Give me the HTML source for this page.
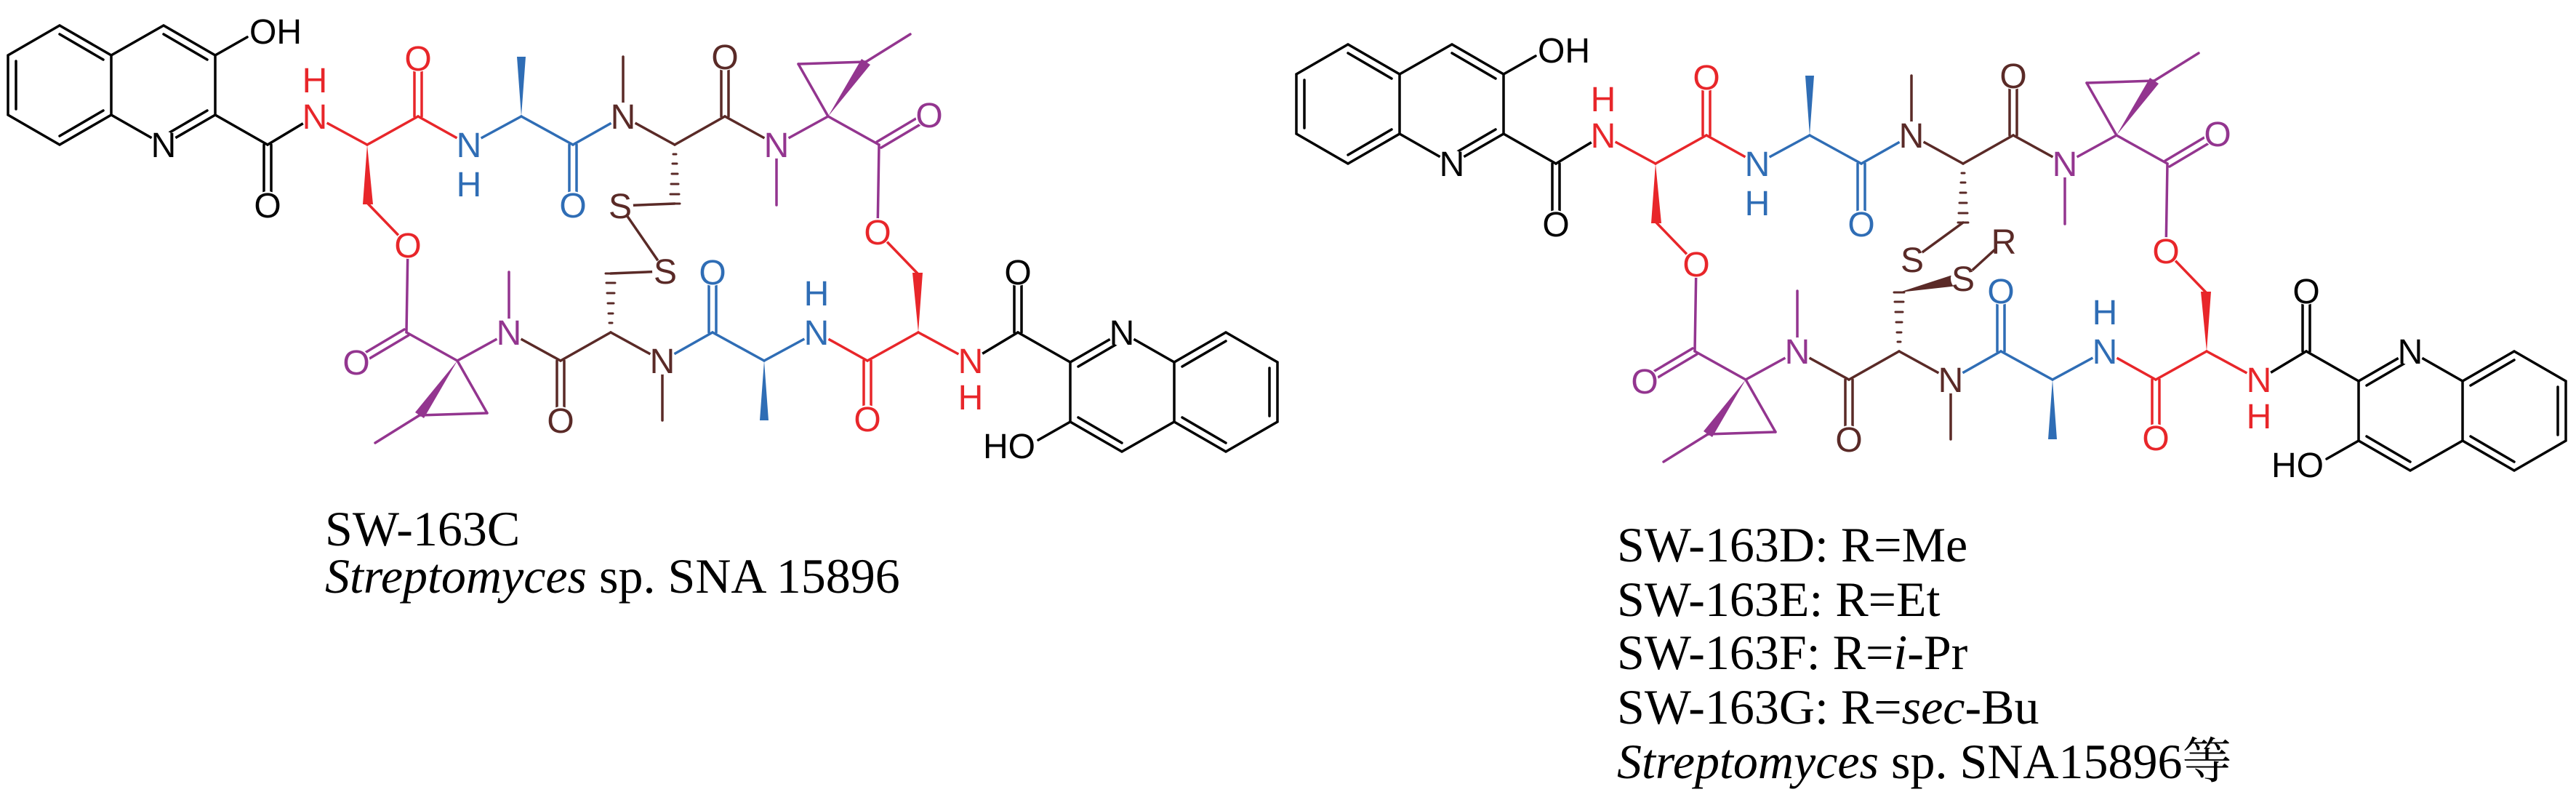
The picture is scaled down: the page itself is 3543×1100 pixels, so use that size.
<!DOCTYPE html>
<html><head><meta charset="utf-8"><style>
html,body{margin:0;padding:0;background:#fff;}
svg{display:block;}
.a{font-family:"Liberation Sans",Arial,sans-serif;font-size:48px;text-anchor:middle;}
.k{fill:#000}.r{fill:#e8262a}.b{fill:#2f6db5}.w{fill:#5a2a27}.p{fill:#93358f}
.lbl{font-family:"Liberation Serif","Noto Serif CJK SC","Noto Sans CJK SC",serif;font-size:68px;fill:#000;}
</style></head><body>
<svg width="3543" height="1100" viewBox="0 0 3543 1100" xmlns="http://www.w3.org/2000/svg">
<rect width="3543" height="1100" fill="#fff"/>
<defs>
<g id="half" stroke-width="3.5" stroke-linecap="round" fill="none">
  <g stroke="#000">
    <polygon points="82,35 153,76 153,158 82,199 11,158 11,76"/>
    <polyline points="153,76 225,35 296,76 296,158 225,199 153,158"/>
    <line x1="82" y1="47" x2="142" y2="82"/>
    <line x1="82" y1="187" x2="142" y2="152"/>
    <line x1="22" y1="84" x2="22" y2="150"/>
    <line x1="225" y1="47" x2="285" y2="82"/>
    <line x1="225" y1="187" x2="285" y2="152"/>
    <line x1="296" y1="76" x2="340" y2="51"/>
    <line x1="296" y1="158" x2="368" y2="199"/>
    <line x1="363" y1="199" x2="363" y2="282"/>
    <line x1="373" y1="199" x2="373" y2="282"/>
    <line x1="368" y1="199" x2="433" y2="160"/>
  </g>
  <g stroke="#e8262a">
    <line x1="433" y1="160" x2="505" y2="199"/>
    <line x1="505" y1="199" x2="575" y2="160"/>
    <line x1="570" y1="160" x2="570" y2="80"/>
    <line x1="580" y1="160" x2="580" y2="80"/>
    <line x1="575" y1="160" x2="645" y2="199"/>
    <line x1="506" y1="280" x2="561" y2="337"/>
  </g>
  <polygon points="505,199 499,281 513,281" fill="#e8262a"/>
  <g stroke="#2f6db5">
    <line x1="645" y1="199" x2="717" y2="160"/>
    <line x1="717" y1="160" x2="788" y2="199"/>
    <line x1="783" y1="199" x2="783" y2="282"/>
    <line x1="793" y1="199" x2="793" y2="282"/>
    <line x1="788" y1="199" x2="857" y2="160"/>
  </g>
  <polygon points="717,160 711,78 723,78" fill="#2f6db5"/>
  <g stroke="#5a2a27">
    <line x1="857" y1="160" x2="857" y2="78"/>
    <line x1="857" y1="160" x2="928" y2="199"/>
    <line x1="928" y1="199" x2="997" y2="160"/>
    <line x1="992" y1="160" x2="992" y2="78"/>
    <line x1="1002" y1="160" x2="1002" y2="78"/>
    <line x1="997" y1="160" x2="1068" y2="199"/>
    <g stroke-width="3">
      <line x1="926" y1="212" x2="930" y2="212"/>
      <line x1="925" y1="225" x2="931" y2="225"/>
      <line x1="924" y1="239" x2="932" y2="239"/>
      <line x1="923" y1="253" x2="933" y2="253"/>
      <line x1="922" y1="267" x2="934" y2="267"/>
      <line x1="921" y1="280" x2="935" y2="280"/>
    </g>
  </g>
  <g stroke="#93358f">
    <line x1="1068" y1="199" x2="1068" y2="282"/>
    <line x1="1068" y1="199" x2="1139" y2="160"/>
    <line x1="1139" y1="160" x2="1098" y2="88"/>
    <line x1="1098" y1="88" x2="1191" y2="85"/>
    <line x1="1191" y1="85" x2="1252" y2="47"/>
    <line x1="1139" y1="160" x2="1209" y2="199"/>
    <line x1="1206" y1="195" x2="1275" y2="154"/>
    <line x1="1212" y1="203" x2="1281" y2="162"/>
    <line x1="1209" y1="199" x2="1207" y2="320"/>
  </g>
  <polygon points="1139,160 1197,89 1185,81" fill="#93358f"/>
</g>
<g id="bg" fill="#fff">
  <rect x="343" y="22" width="80" height="42"/>
  <circle cx="225" cy="199" r="19"/>
  <circle cx="368" cy="282" r="19"/>
  <circle cx="433" cy="160" r="19"/>
  <circle cx="433" cy="110" r="19"/>
  <circle cx="575" cy="80" r="19"/>
  <circle cx="645" cy="199" r="19"/>
  <circle cx="645" cy="253" r="19"/>
  <circle cx="788" cy="282" r="19"/>
  <circle cx="857" cy="160" r="19"/>
  <circle cx="997" cy="78" r="19"/>
  <circle cx="1068" cy="199" r="19"/>
  <circle cx="1278" cy="158" r="19"/>
  <circle cx="561" cy="337" r="19"/>
  <rect x="1346" y="592" width="80" height="42"/>
  <circle cx="1543" cy="457" r="19"/>
  <circle cx="1400" cy="374" r="19"/>
  <circle cx="1335" cy="496" r="19"/>
  <circle cx="1335" cy="546" r="19"/>
  <circle cx="1193" cy="576" r="19"/>
  <circle cx="1123" cy="457" r="19"/>
  <circle cx="1123" cy="403" r="19"/>
  <circle cx="980" cy="374" r="19"/>
  <circle cx="911" cy="496" r="19"/>
  <circle cx="771" cy="578" r="19"/>
  <circle cx="700" cy="457" r="19"/>
  <circle cx="490" cy="498" r="19"/>
  <circle cx="1207" cy="319" r="19"/>
</g>
<g id="labels">
  <text class="a k" x="343" y="60" style="text-anchor:start">OH</text>
  <text class="a k" x="225" y="216">N</text>
  <text class="a k" x="368" y="299">O</text>
  <text class="a r" x="433" y="177">N</text>
  <text class="a r" x="433" y="127">H</text>
  <text class="a r" x="575" y="97">O</text>
  <text class="a b" x="645" y="216">N</text>
  <text class="a b" x="645" y="270">H</text>
  <text class="a b" x="788" y="299">O</text>
  <text class="a w" x="857" y="177">N</text>
  <text class="a w" x="997" y="95">O</text>
  <text class="a p" x="1068" y="216">N</text>
  <text class="a p" x="1278" y="175">O</text>
  <text class="a r" x="561" y="354">O</text>
  <text class="a k" x="1424" y="630" style="text-anchor:end">HO</text>
  <text class="a k" x="1543" y="474">N</text>
  <text class="a k" x="1400" y="391">O</text>
  <text class="a r" x="1335" y="513">N</text>
  <text class="a r" x="1335" y="563">H</text>
  <text class="a r" x="1193" y="593">O</text>
  <text class="a b" x="1123" y="474">N</text>
  <text class="a b" x="1123" y="420">H</text>
  <text class="a b" x="980" y="391">O</text>
  <text class="a w" x="911" y="513">N</text>
  <text class="a w" x="771" y="595">O</text>
  <text class="a p" x="700" y="474">N</text>
  <text class="a p" x="490" y="515">O</text>
  <text class="a r" x="1207" y="336">O</text>
</g>
</defs>

<!-- Left molecule -->
<g>
  <use href="#half"/>
  <use href="#half" transform="rotate(180 884 328)"/>
  <g stroke="#5a2a27" stroke-width="3.5" stroke-linecap="round">
    <line x1="928" y1="280" x2="853" y2="283"/>
    <line x1="840" y1="376" x2="915" y2="373"/>
    <line x1="853" y1="283" x2="915" y2="373"/>
  </g>
  <use href="#bg"/>
  <circle cx="853" cy="283" r="18" fill="#fff"/>
  <circle cx="915" cy="373" r="18" fill="#fff"/>
  <use href="#labels"/>
  <text class="a w" x="853" y="300">S</text>
  <text class="a w" x="915" y="390">S</text>
</g>

<!-- Right molecule -->
<g transform="translate(1772,26)">
  <use href="#half"/>
  <use href="#half" transform="rotate(180 884 328)"/>
  <g stroke="#5a2a27" stroke-width="3.5" stroke-linecap="round">
    <line x1="928" y1="280" x2="858" y2="331"/>
    <line x1="928" y1="357" x2="984" y2="306"/>
  </g>
  <polygon points="840,376 930,366 926,348" fill="#5a2a27"/>
  <use href="#bg"/>
  <circle cx="858" cy="331" r="17" fill="#fff"/>
  <circle cx="928" cy="357" r="17" fill="#fff"/>
  <circle cx="984" cy="306" r="17" fill="#fff"/>
  <use href="#labels"/>
  <text class="a w" x="858" y="348">S</text>
  <text class="a w" x="928" y="374">S</text>
  <text class="a w" x="984" y="323">R</text>
</g>

<!-- Captions -->
<text class="lbl" x="447" y="750">SW-163C</text>
<text class="lbl" x="447" y="815"><tspan font-style="italic">Streptomyces</tspan> sp. SNA 15896</text>

<text class="lbl" x="2224" y="772">SW-163D: R=Me</text>
<text class="lbl" x="2224" y="847">SW-163E: R=Et</text>
<text class="lbl" x="2224" y="920">SW-163F: R=<tspan font-style="italic">i</tspan>-Pr</text>
<text class="lbl" x="2224" y="995">SW-163G: R=<tspan font-style="italic">sec</tspan>-Bu</text>
<text class="lbl" x="2224" y="1070"><tspan font-style="italic">Streptomyces</tspan> sp. SNA15896等</text>
</svg>
</body></html>
